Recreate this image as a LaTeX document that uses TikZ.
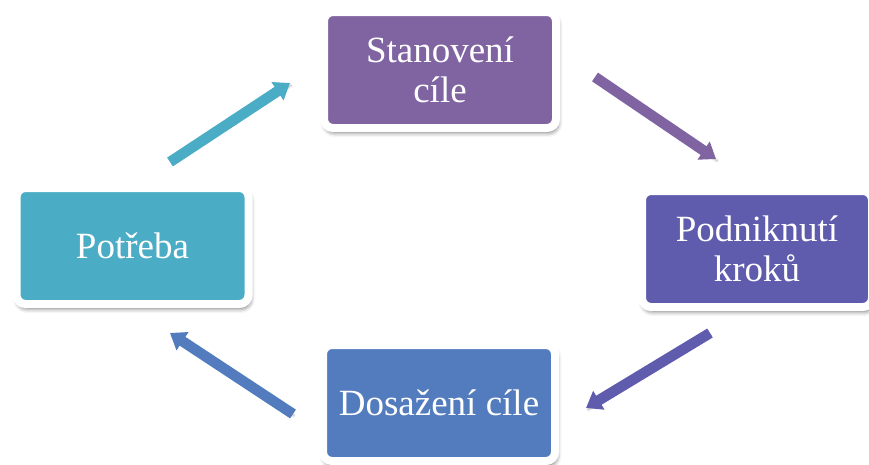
\documentclass[tikz,border=0pt]{standalone}
\usepackage{fontspec}
\setmainfont{Liberation Serif}
\usetikzlibrary{shadows.blur,arrows.meta}
\definecolor{cCyan}{HTML}{4BACC6}
\definecolor{cPurple}{HTML}{8064A2}
\definecolor{cIndigo}{HTML}{5F5BAD}
\definecolor{cBlue}{HTML}{527CBD}
\tikzset{
  stepbox/.style={draw=white, line width=8pt, rounded corners=9pt,
    minimum width=232pt, minimum height=116pt, inner sep=0pt,
    text=white, align=center,
    font=\fontsize{37}{40}\selectfont,
    blur shadow={shadow xshift=1.5pt, shadow yshift=-4pt, shadow blur radius=5pt, shadow opacity=65}},
  flow/.style={line width=10.5pt, -{Triangle[width=21pt,length=15pt]},
    blur shadow={shadow xshift=1.5pt, shadow yshift=-2pt, shadow blur radius=2.5pt, shadow opacity=35}}
}
\begin{document}
\begin{tikzpicture}[x=1pt,y=-1pt]
\useasboundingbox (0,0) rectangle (869,464);
\node[stepbox, fill=cPurple] (st) at (440,70) {Stanovení\\cíle};
\node[stepbox, fill=cCyan] (po) at (132.5,246) {Potřeba};
\node[stepbox, fill=cIndigo, minimum width=230pt] (pk) at (757,249) {Podniknutí\\kroků};
\node[stepbox, fill=cBlue] (do) at (439,403) {Dosažení cíle};
\coordinate (a1s) at (170,162);
\coordinate (a1e) at (290,83);
\coordinate (a2s) at (595,77);
\coordinate (a2e) at (716,159);
\coordinate (a3s) at (710,333);
\coordinate (a3e) at (586,408);
\coordinate (a4s) at (293,414);
\coordinate (a4e) at (170,333);
\draw[flow, cCyan] (a1s) -- (a1e);
\draw[flow, cPurple] (a2s) -- (a2e);
\draw[flow, cIndigo] (a3s) -- (a3e);
\draw[flow, cBlue] (a4s) -- (a4e);
\end{tikzpicture}
\end{document}
